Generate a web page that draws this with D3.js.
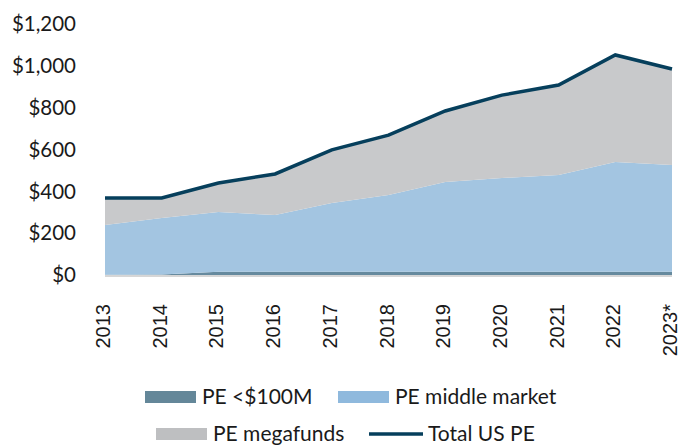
<!doctype html>
<html>
<head>
  <meta charset="utf-8">
  <script src="https://d3js.org/d3.v7.min.js"></script>
  <style>
    body {margin: 0; background: #fff;}
    .ylab {font-family: Lato, sans-serif; font-size: 20.5px; fill: #1a1a1a;}
    .xlab {font-family: "Liberation Sans", Arial, sans-serif; font-size: 20px; fill: #1a1a1a;}
    .leg  {font-family: Lato, sans-serif; font-size: 21px; fill: #1a1a1a;}
  </style>
</head>
<body>
  <svg width="680" height="445"></svg>
  <script>
    const years     = ['2013','2014','2015','2016','2017','2018','2019','2020','2021','2022','2023*'];
    const peSmall   = [1, 2, 15, 15, 15, 15, 15, 15, 15, 15, 15];
    const peMiddle  = [238, 270, 286, 272, 329, 367, 430, 449, 463, 525, 511];
    const peMega    = [129, 96, 139, 196, 254, 287, 339, 396, 430, 512, 459];
    const totalUS   = [368, 368, 440, 483, 598, 669, 784, 860, 908, 1052, 985];
    const yTicks    = [0, 200, 400, 600, 800, 1000, 1200];

    const svg = d3.select('svg');
    const x = d3.scalePoint().domain(years).range([105, 672]);
    const y = d3.scaleLinear().domain([0, 1200]).range([275, 24]);

    const rows = years.map((yr, i) => ({year: yr, small: peSmall[i], middle: peMiddle[i], mega: peMega[i], total: totalUS[i]}));
    const keys = ['small', 'middle', 'mega'];
    const fills = {small: '#668a9e', middle: '#a3c5e1', mega: '#c8c9cb'};
    const stacked = d3.stack().keys(keys)(rows);

    const area = d3.area()
      .x(d => x(d.data.year))
      .y0(d => y(d[0]))
      .y1(d => y(d[1]));

    // light base line under the areas
    svg.append('line')
      .attr('x1', x(years[0])).attr('x2', x(years[years.length - 1]))
      .attr('y1', y(0) + 1).attr('y2', y(0) + 1)
      .attr('stroke', '#d6d6d6').attr('stroke-width', 2);

    svg.append('g').selectAll('path')
      .data(stacked)
      .join('path')
      .attr('fill', d => fills[d.key])
      .attr('d', area);

    svg.append('path')
      .datum(rows)
      .attr('fill', 'none')
      .attr('stroke', '#063f5c')
      .attr('stroke-width', 3.5)
      .attr('d', d3.line().x(d => x(d.year)).y(d => y(d.total)));

    // y labels
    svg.append('g').selectAll('text')
      .data(yTicks)
      .join('text')
      .attr('class', 'ylab')
      .attr('x', 76)
      .attr('y', d => y(d))
      .attr('dy', '0.35em')
      .attr('text-anchor', 'end')
      .text(d => '$' + d3.format(',')(d));

    // x labels, rotated
    svg.append('g').selectAll('text')
      .data(years)
      .join('text')
      .attr('class', 'xlab')
      .attr('transform', d => `translate(${x(d) - 2},304) rotate(-90)`)
      .attr('dy', '0.35em')
      .attr('text-anchor', 'end')
      .text(d => d);

    // legend
    const legend = [
      {label: 'PE <$100M', color: '#648799', x: 145, y: 397, type: 'rect'},
      {label: 'PE middle market', color: '#8fb9dd', x: 338, y: 397, type: 'rect'},
      {label: 'PE megafunds', color: '#bebfc1', x: 156, y: 434, type: 'rect'},
      {label: 'Total US PE', color: '#063f5c', x: 369, y: 434, type: 'line'}
    ];
    const lg = svg.append('g').selectAll('g').data(legend).join('g');
    lg.filter(d => d.type === 'rect').append('rect')
      .attr('x', d => d.x).attr('y', d => d.y - 6)
      .attr('width', 51).attr('height', 12)
      .attr('fill', d => d.color);
    lg.filter(d => d.type === 'line').append('line')
      .attr('x1', d => d.x).attr('x2', d => d.x + 54)
      .attr('y1', d => d.y).attr('y2', d => d.y)
      .attr('stroke', d => d.color).attr('stroke-width', 3.5);
    lg.append('text')
      .attr('class', 'leg')
      .attr('x', d => d.x + (d.type === 'line' ? 59 : 57))
      .attr('y', d => d.y)
      .attr('dy', '0.35em')
      .text(d => d.label);
  </script>
</body>
</html>
